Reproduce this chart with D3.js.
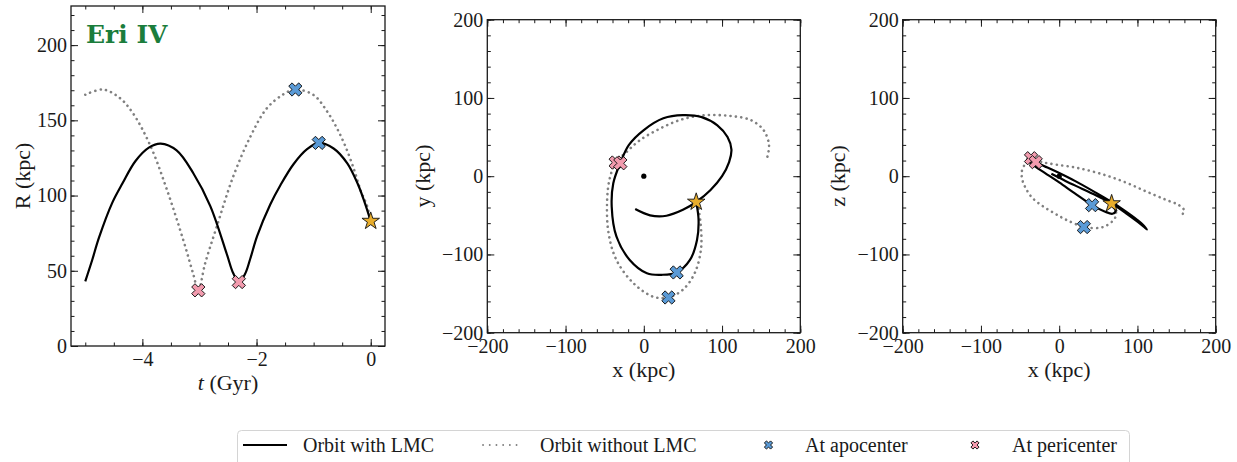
<!DOCTYPE html>
<html>
<head>
<meta charset="utf-8">
<script src="https://cdn.jsdelivr.net/npm/d3@7"></script>
<style>
  body { margin: 0; background: #fff; }
  text { font-family: "Liberation Serif", "DejaVu Serif", serif; fill: #1a1a1a; }
</style>
</head>
<body>
<svg id="chart" width="1237" height="462"></svg>
<script>
// R(t) with LMC (solid) and without LMC (dotted)
var tWith = [-5.0, -4.88, -4.76, -4.53, -4.35, -4.12, -3.88, -3.68, -3.40, -3.11, -2.81, -2.52, -2.41, -2.31, -2.20, -2.11, -1.99, -1.76, -1.58, -1.35, -1.11, -0.91, -0.65, -0.41, -0.23, -0.12, 0];
var rWith = [43, 57, 72, 95, 108, 123, 132, 134.5, 130, 115, 93, 61, 48.5, 42.5, 48, 58, 73, 94, 107, 121, 131, 135, 131.3, 121.4, 108, 97, 83];
var tWithout = [-5.0, -4.69, -4.40, -4.17, -3.87, -3.58, -3.28, -3.11, -3.02, -2.90, -2.70, -2.41, -2.11, -1.82, -1.52, -1.32, -1.00, -0.76, -0.59, -0.44, -0.29, -0.18, -0.06, 0];
var rWithout = [167, 170.5, 165, 155, 134, 105, 70, 48, 37, 55, 79, 112.5, 139, 158, 167.5, 170.5, 166.8, 155.7, 144.6, 132.4, 117, 103.7, 92.6, 83];

// x-y plane, time ordered from t = -5 Gyr to today
var xyWith = [[-11,-42],[8,-50],[29,-50.5],[50,-43],[67,-33],[85,-18],[100,0],[109,18],[112,34],[107,50],[94,65],[74,75.5],[50,78],[25,74],[0,59],[-19,40],[-30,17],[-39,-9],[-41,-39],[-35,-77],[-18,-107],[4,-124],[23,-126],[42,-123],[59,-107],[68,-81.5],[70,-56],[67,-33]];
var xyWithout = [[158,25],[160,40],[153,59],[136,72],[110,77],[80,78],[50,73],[21,61],[-5,46],[-22,31],[-36,17],[-44,-5],[-47,-35],[-45,-73],[-35,-107],[-13,-137],[12,-154],[31,-155],[50,-145],[65,-124],[73,-94],[73,-65],[70,-43],[67,-33]];

// x-z plane
var xzWith = [[-10,3],[8,-6],[29,-16],[50,-26],[67,-35],[85,-47],[100,-58],[108,-64.5],[112,-68],[107,-62],[100,-56],[85,-45],[67,-33],[45,-20],[20,-6],[0,4],[-15,11],[-30,18],[-38,21.5],[-41,21.5],[-39,19],[-30,12],[-18,4],[0,-8],[20,-22],[42,-37],[58,-45],[68,-48],[72,-45],[70,-40],[67,-35]];
var xzWithout = [[158,-48],[160,-44],[153,-37],[136,-30],[110,-19],[80,-6],[50,4],[21,11],[-5,15],[-22,18],[-37,23],[-44,15],[-48,5],[-47,-5],[-44,-13],[-35,-27],[-20,-39],[-5,-48],[9.5,-56],[33,-65],[56,-65],[71,-54],[72.5,-45],[67,-35]];

// markers: [with LMC, without LMC]
var apoT = [-0.91, -1.32], apoR = [135, 170.5], apoX = [42, 31.5], apoY = [-123, -155], apoZ = [-37, -65];
var periT = [-2.31, -3.02], periR = [42.5, 37], periX = [-30, -36], periY = [16.5, 17.5], periZ = [18, 23];
var nowT = 0, nowR = 83, nowX = 67, nowY = -33, nowZ = -35;

var tMajor = [-4, -2, 0], tMinor = d3.range(-5, 0.01, 0.5);
var rMajor = [0, 50, 100, 150, 200], rMinor = d3.range(0, 226, 10);
var kMajor = [-200, -100, 0, 100, 200], kMinor = d3.range(-200, 201, 20);

var legendLabels = ["Orbit with LMC", "Orbit without LMC", "At apocenter", "At pericenter"];

var blue = "#5a9ad6", pink = "#f29bae", gold = "#e8ad2c", grey = "#808080";

var svg = d3.select("#chart");

function frame(x, y, xMaj, xMin, yMaj, yMin) {
  var g = svg.append("g");
  var x0 = x.range()[0], x1 = x.range()[1], y0 = y.range()[0], y1 = y.range()[1];
  var fmt = d3.format("d");
  var axes = [
    [d3.axisBottom, "translate(0," + y0 + ")", x, xMaj, xMin, true],
    [d3.axisTop, "translate(0," + y1 + ")", x, xMaj, xMin, false],
    [d3.axisLeft, "translate(" + x0 + ",0)", y, yMaj, yMin, true],
    [d3.axisRight, "translate(" + x1 + ",0)", y, yMaj, yMin, false]
  ];
  axes.forEach(function(a) {
    var pad = a[0] === d3.axisBottom ? 6 : 4;
    g.append("g").attr("transform", a[1])
      .call(a[0](a[2]).tickValues(a[4]).tickSize(-3.5).tickSizeOuter(0).tickFormat(""));
    var ax = g.append("g").attr("transform", a[1])
      .call(a[0](a[2]).tickValues(a[3]).tickSize(-7).tickSizeOuter(0).tickPadding(pad)
        .tickFormat(a[5] ? fmt : ""));
    ax.attr("font-family", null).attr("font-size", null);
    ax.selectAll("text").style("font-size", "20px");
  });
  g.selectAll(".domain").remove();
  g.selectAll(".tick line").attr("stroke", "#1a1a1a").attr("stroke-width", 1);
  g.append("rect").attr("x", x0).attr("y", y1).attr("width", x1 - x0).attr("height", y0 - y1)
    .attr("fill", "none").attr("stroke", "#1a1a1a").attr("stroke-width", 1.3);
}

function xMark(g, cx, cy, color, size) {
  g.append("path")
    .attr("d", d3.symbol(d3.symbolCross, size)())
    .attr("transform", "translate(" + cx + "," + cy + ") rotate(45)")
    .attr("fill", color).attr("stroke", "#111").attr("stroke-width", 0.9);
}

function star(g, cx, cy) {
  g.append("path")
    .attr("d", d3.symbol(d3.symbolStar, 95)())
    .attr("transform", "translate(" + cx + "," + cy + ")")
    .attr("fill", gold).attr("stroke", "#111").attr("stroke-width", 0.9);
}

function orbit(g, line, pts, dotted) {
  var p = g.append("path").datum(pts).attr("d", line).attr("fill", "none");
  if (dotted) {
    p.attr("stroke", grey).attr("stroke-width", 2.6).attr("stroke-linecap", "round")
      .attr("stroke-dasharray", "0.1 5.3");
  } else {
    p.attr("stroke", "#000").attr("stroke-width", 2.2);
  }
}

function yLabel(x, y, txt) {
  svg.append("text").attr("transform", "translate(" + x + "," + y + ") rotate(-90)")
    .attr("text-anchor", "middle").style("font-size", "22px").text(txt);
}

// ---- panel 1 : R vs t
var x1 = d3.scaleLinear().domain([-5.25, 0.25]).range([71, 385]);
var y1 = d3.scaleLinear().domain([0, 226]).range([346, 6]);
var p1 = svg.append("g");
var line1 = d3.line().x(function(d) { return x1(d[0]); }).y(function(d) { return y1(d[1]); })
  .curve(d3.curveCatmullRom.alpha(0.5));
orbit(p1, line1, tWithout.map(function(t, i) { return [t, rWithout[i]]; }), true);
orbit(p1, line1, tWith.map(function(t, i) { return [t, rWith[i]]; }), false);
for (var i = 1; i >= 0; i--) {
  xMark(p1, x1(apoT[i]), y1(apoR[i]), blue, 110);
  xMark(p1, x1(periT[i]), y1(periR[i]), pink, 110);
}
star(p1, x1(nowT), y1(nowR));
frame(x1, y1, tMajor, tMinor, rMajor, rMinor);

svg.append("text").attr("x", 86).attr("y", 43)
  .style("font-family", "'DejaVu Serif', serif")
  .style("font-size", "25px").style("font-weight", "bold").style("fill", "#1b7d3c").text("Eri IV");

var xl = svg.append("text").attr("x", 228).attr("y", 390).attr("text-anchor", "middle").style("font-size", "22px");
xl.append("tspan").style("font-style", "italic").text("t");
xl.append("tspan").text(" (Gyr)");
yLabel(30, 176, "R (kpc)");

// ---- panels 2 and 3 : projections
function projection(left, data, dataNo, my, ylab, labX) {
  var x = d3.scaleLinear().domain([-200, 200]).range([left, left + 313]);
  var y = d3.scaleLinear().domain([-200, 200]).range([332.7, 19.7]);
  var g = svg.append("g");
  var line = d3.line().x(function(d) { return x(d[0]); }).y(function(d) { return y(d[1]); })
    .curve(d3.curveCatmullRom.alpha(0.5));
  orbit(g, line, dataNo, true);
  orbit(g, line, data, false);
  g.append("circle").attr("cx", x(0)).attr("cy", y(0)).attr("r", 2.6).attr("fill", "#000");
  for (var i = 1; i >= 0; i--) {
    xMark(g, x(apoX[i]), y(my.apo[i]), blue, 110);
    xMark(g, x(periX[i]), y(my.peri[i]), pink, 110);
  }
  star(g, x(nowX), y(my.now));
  frame(x, y, kMajor, kMinor, kMajor, kMinor);
  svg.append("text").attr("x", left + 156.5).attr("y", 377).attr("text-anchor", "middle")
    .style("font-size", "22px").text("x (kpc)");
  yLabel(labX, 176, ylab);
}
projection(487.3, xyWith, xyWithout, { apo: apoY, peri: periY, now: nowY }, "y (kpc)", 430);
projection(902.7, xzWith, xzWithout, { apo: apoZ, peri: periZ, now: nowZ }, "z (kpc)", 845);

// ---- legend
var lg = svg.append("g");
lg.append("rect").attr("x", 237.5).attr("y", 430.5).attr("width", 892).attr("height", 45).attr("rx", 4)
  .attr("fill", "#fff").attr("stroke", "#d4d4d4").attr("stroke-width", 1);
var ly = 445;
lg.append("line").attr("x1", 243).attr("x2", 287).attr("y1", ly).attr("y2", ly)
  .attr("stroke", "#000").attr("stroke-width", 2.2);
lg.append("line").attr("x1", 483).attr("x2", 521).attr("y1", ly).attr("y2", ly)
  .attr("stroke", grey).attr("stroke-width", 1.8).attr("stroke-linecap", "round").attr("stroke-dasharray", "0.1 6.6");
xMark(lg, 768.5, ly, blue, 42);
xMark(lg, 975, ly, pink, 42);
var lx = [303, 540, 805, 1012];
legendLabels.forEach(function(s, i) {
  lg.append("text").attr("x", lx[i]).attr("y", ly + 7).style("font-size", "20px").text(s);
});
</script>
</body>
</html>
